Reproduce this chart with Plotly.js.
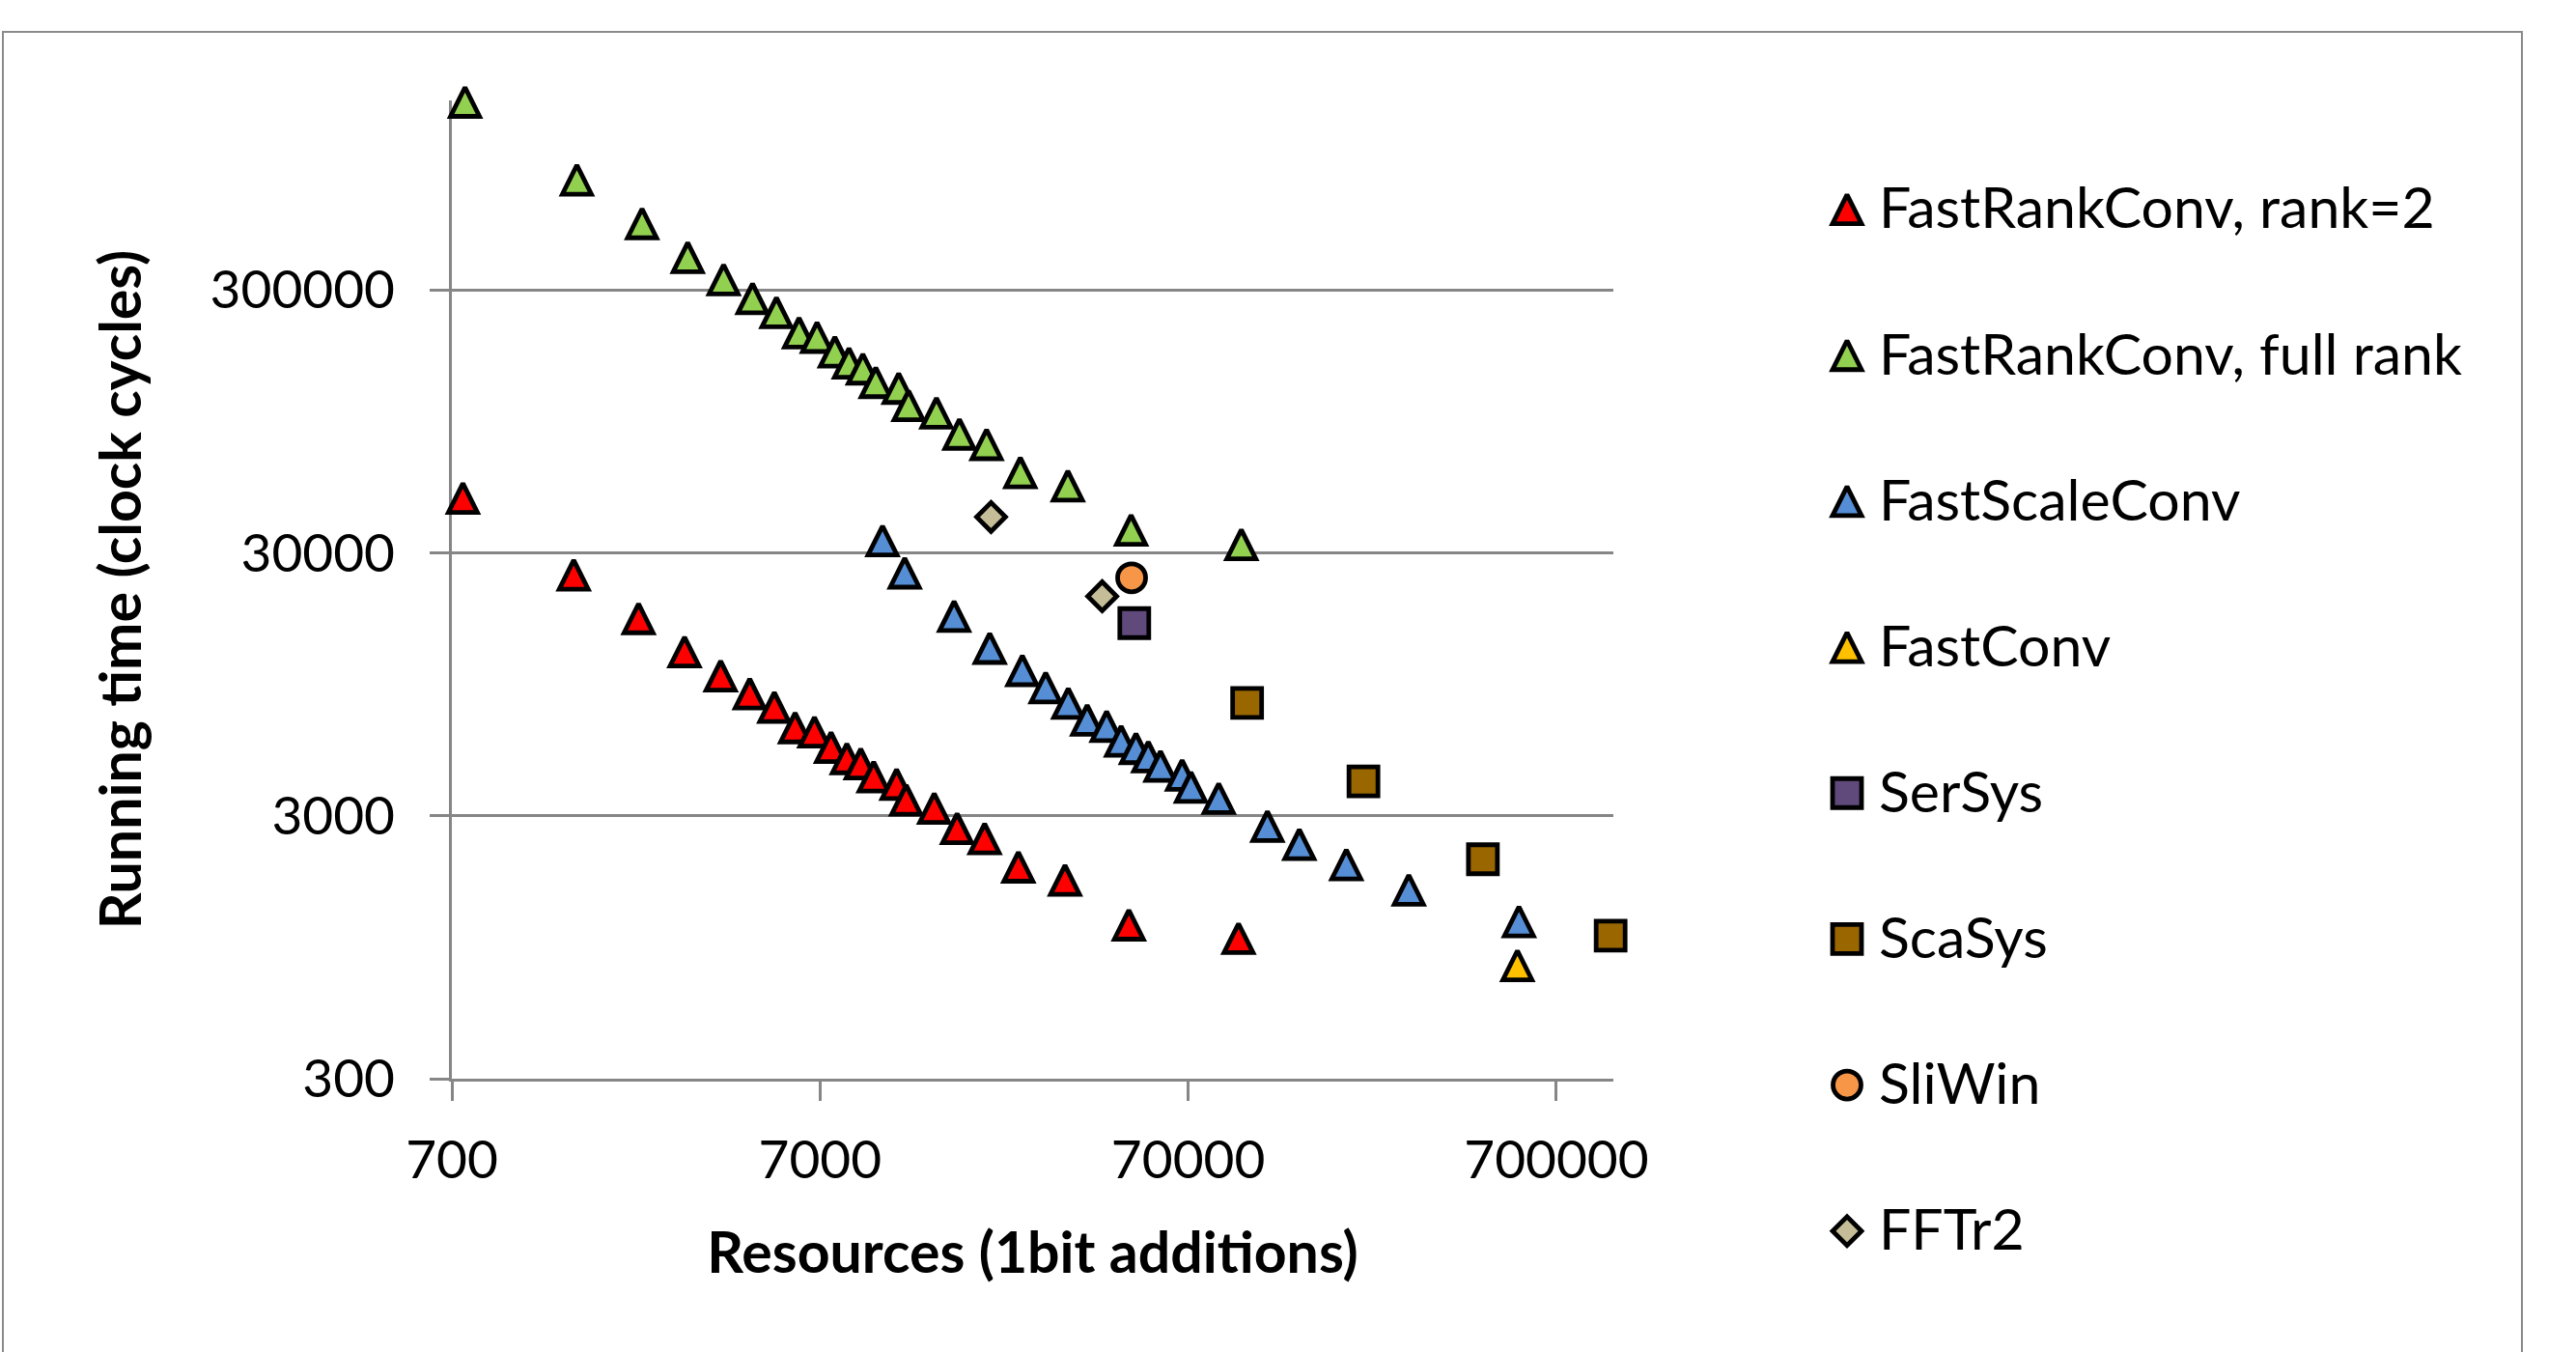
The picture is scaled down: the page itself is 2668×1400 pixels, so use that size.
<!DOCTYPE html>
<html>
<head>
<meta charset="utf-8">
<script src="https://cdn.plot.ly/plotly-3.0.1.min.js"></script>
<style>
html,body{margin:0;padding:0;background:#fff;overflow:hidden;width:2668px;height:1400px;}
#frame{position:absolute;left:2px;top:32px;width:2611px;height:1430px;border:2.5px solid #8a8a8a;box-sizing:border-box;}
#chart{position:absolute;left:0;top:0;width:2668px;height:1400px;}
</style>
</head>
<body>
<div id="frame"></div>
<div id="chart"></div>
<script>
// ---------- data ----------
const seriesNames  = ['FastRankConv, rank=2', 'FastRankConv, full rank', 'FastScaleConv', 'FastConv', 'SerSys', 'ScaSys', 'SliWin', 'FFTr2'];
const seriesColors = ['#FF0000', '#92D050', '#558ED5', '#FFC000', '#604A7B', '#996600', '#F79646', '#C4BD97'];
const seriesShapes = ['triangle', 'triangle', 'triangle', 'triangle', 'square', 'square', 'circle', 'diamond'];

const rank2X = [750, 1500, 2250, 3000, 3760, 4510, 5260, 5990, 6760, 7500, 8280, 9030, 9790, 11300, 12000, 14300, 16500, 19600, 24200, 32400, 48300, 95900];
const rank2Y = [48500, 24750, 16900, 12630, 10230, 8750, 7770, 6500, 6260, 5470, 4960, 4740, 4230, 3960, 3450, 3210, 2690, 2460, 1920, 1710, 1156, 1027];

const fullRankX = [760, 1530, 2300, 3060, 3830, 4590, 5330, 6140, 6870, 7680, 8390, 9150, 9920, 11450, 12180, 14500, 16740, 19840, 24500, 32980, 48980, 97600];
const fullRankY = [1555000, 787000, 537000, 399000, 328700, 278700, 246500, 206400, 198400, 174500, 158300, 150400, 133600, 127000, 109100, 102300, 85000, 77600, 60700, 54000, 36700, 32300];

const scaleX = [10350, 11890, 16190, 20230, 24810, 28710, 33070, 37220, 42030, 46020, 50500, 54540, 58860, 67400, 71230, 84720, 114900, 140300, 188200, 278200, 554000];
const scaleY = [33400, 25200, 17240, 13030, 10730, 9230, 8050, 6950, 6580, 5780, 5420, 5040, 4640, 4290, 3860, 3500, 2740, 2340, 1960, 1570, 1190];

const fastConvX = [548700];
const fastConvY = [810];

const serSysX = [49970];
const serSysY = [16200];

const scaSysX = [101200, 209500, 442200, 983000];
const scaSysY = [8060, 4050, 2050, 1050];

const sliWinX = [49140];
const sliWinY = [24100];

const fftX = [20400, 40880];
const fftY = [41060, 20500];

const xTickVals = [700, 7000, 70000, 700000];
const xTickText = ['700', '7000', '70000', '700000'];
const yTickVals = [300, 3000, 30000, 300000];
const yTickText = ['300', '3000', '30000', '300000'];

const seriesX = [rank2X, fullRankX, scaleX, fastConvX, serSysX, scaSysX, sliWinX, fftX];
const seriesY = [rank2Y, fullRankY, scaleY, fastConvY, serSysY, scaSysY, sliWinY, fftY];

// ---------- styling ----------
const FONT = 'Lato, Carlito, Calibri, sans-serif';
const GRID = '#868686';
const OUTLINE = 4.8;

function markerFor(shape, color) {
  if (shape === 'triangle') {
    // upright triangle as tall as it is wide, centred on the point
    return {symbol: 'arrow-down', angle: 180, size: 30, standoff: 15, color: color, opacity: 1, line: {color: '#000', width: OUTLINE}};
  }
  if (shape === 'square') return {symbol: 'square', size: 30, color: color, opacity: 1, line: {color: '#000', width: OUTLINE}};
  if (shape === 'circle') return {symbol: 'circle', size: 29, color: color, opacity: 1, line: {color: '#000', width: OUTLINE}};
  return {symbol: 'diamond', size: 23, color: color, opacity: 1, line: {color: '#000', width: OUTLINE}};
}

const traces = seriesNames.map((name, i) => ({
  type: 'scatter', mode: 'markers', name: name,
  x: seriesX[i], y: seriesY[i],
  xaxis: 'x', yaxis: 'y',
  marker: markerFor(seriesShapes[i], seriesColors[i]),
  cliponaxis: false, hoverinfo: 'x+y+name'
}));

// legend column (drawn on its own hidden axes so the symbols keep their size)
const legendMarkers = seriesNames.map((n, i) => markerFor(seriesShapes[i], seriesColors[i]));
traces.push({
  type: 'scatter', mode: 'markers', xaxis: 'x2', yaxis: 'y2', showlegend: false, hoverinfo: 'skip',
  x: seriesNames.map(() => 0), y: seriesNames.map((n, i) => i),
  marker: {
    symbol: legendMarkers.map(m => m.symbol),
    angle: legendMarkers.map(m => m.angle || 0),
    standoff: legendMarkers.map(m => m.standoff || 0),
    size: legendMarkers.map(m => m.size),
    color: legendMarkers.map(m => m.color),
    opacity: 1,
    line: {color: '#000', width: OUTLINE}
  },
  cliponaxis: false
});
traces.push({
  type: 'scatter', mode: 'text', xaxis: 'x2', yaxis: 'y3', showlegend: false, hoverinfo: 'skip',
  x: seriesNames.map(() => 33), y: seriesNames.map((n, i) => i),
  text: seriesNames, textposition: 'middle right',
  textfont: {family: FONT, size: 59, color: '#000'},
  cliponaxis: false
});

const W = 2668, H = 1400;
const mL = 468, mR = 60, mT = 100, mB = 100;
const paperW = W - mL - mR, paperH = H - mT - mB;
const ROW = 151.16, ROW0 = 216.6, TEXT_SHIFT = 5;

const layout = {
  width: W, height: H,
  margin: {l: mL, r: mR, t: mT, b: mB, pad: 0},
  paper_bgcolor: 'rgba(0,0,0,0)', plot_bgcolor: 'rgba(0,0,0,0)',
  showlegend: false,
  font: {family: FONT, color: '#000'},
  xaxis: {
    type: 'log', domain: [0, (1671 - mL) / paperW],
    range: [Math.log10(700), Math.log10(1000000)],
    tickmode: 'array', tickvals: xTickVals, ticktext: xTickText,
    ticks: 'outside', ticklen: 20, tickwidth: 3, tickcolor: GRID,
    showline: true, linecolor: GRID, linewidth: 3, showgrid: false, zeroline: false,
    tickfont: {family: FONT, size: 55, color: '#000'},
    ticklabelstandoff: 14,
    title: {text: 'Resources (1bit additions)', font: {family: FONT, size: 59, weight: 'bold', color: '#000'}, standoff: 46},
    layer: 'below traces', anchor: 'y', fixedrange: true
  },
  yaxis: {
    type: 'log', domain: [(H - mB - 1117) / paperH, (H - mB - 104) / paperH],
    range: [Math.log10(300), Math.log10(1575000)],
    tickmode: 'array', tickvals: yTickVals, ticktext: yTickText,
    ticks: 'outside', ticklen: 20, tickwidth: 3, tickcolor: GRID,
    showline: true, linecolor: GRID, linewidth: 3,
    showgrid: true, gridcolor: GRID, gridwidth: 3, zeroline: false,
    tickfont: {family: FONT, size: 55, color: '#000'},
    ticklabelstandoff: 25,
    title: {text: 'Running time (clock cycles)', font: {family: FONT, size: 59, weight: 'bold', color: '#000'}, standoff: 52},
    layer: 'below traces', anchor: 'x', fixedrange: true
  },
  xaxis2: {domain: [(1913 - mL) / paperW, 1], range: [0, W - mR - 1913], visible: false, anchor: 'y2', fixedrange: true},
  yaxis2: {domain: [0, 1], range: [(H - mB - ROW0) / ROW, (mT - ROW0) / ROW], visible: false, anchor: 'x2', fixedrange: true},
  yaxis3: {domain: [0, 1], range: [(H - mB - ROW0 - TEXT_SHIFT) / ROW, (mT - ROW0 - TEXT_SHIFT) / ROW], visible: false, anchor: 'x2', overlaying: 'y2', fixedrange: true}
};

Plotly.newPlot('chart', traces, layout, {staticPlot: true, displayModeBar: false});
</script>
</body>
</html>
